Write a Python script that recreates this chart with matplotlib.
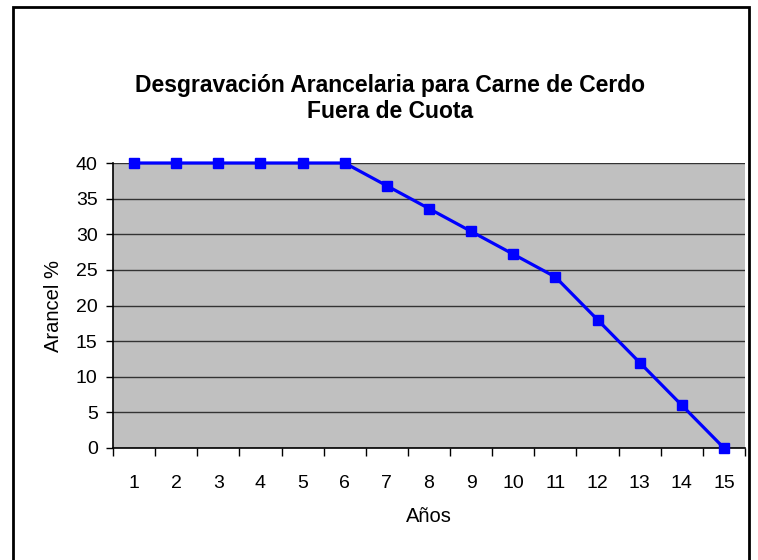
import matplotlib
matplotlib.use("Agg")
import matplotlib.pyplot as plt
from matplotlib.patches import Rectangle

years = [str(i) for i in range(1, 16)]
arancel = [40, 40, 40, 40, 40, 40, 36.8, 33.6, 30.4, 27.2, 24, 18, 12, 6, 0]
y_ticks = [0, 5, 10, 15, 20, 25, 30, 35, 40]

plt.rcParams['font.family'] = ['Liberation Sans', 'DejaVu Sans']

W, H = 758, 560
fig = plt.figure(figsize=(W / 100, H / 100), dpi=100)
fig.patch.set_facecolor('white')

# figure border (chart area)
fig.patches.append(Rectangle((13 / W, -0.05), (749 - 13) / W, 1 - 7 / H + 0.05,
                             transform=fig.transFigure, fill=False,
                             edgecolor='black', linewidth=2))

left, right, top, bottom = 113, 745, 163, 448
ax = fig.add_axes([left / W, 1 - bottom / H, (right - left) / W, (bottom - top) / H])
ax.set_facecolor('#C0C0C0')

x = list(range(len(years)))
ax.plot(x, arancel, color='#0000FF', linewidth=2.3, marker='s', markersize=7.5,
        markerfacecolor='#0000FF', markeredgecolor='#0000FF', zorder=3, clip_on=False)

ax.set_xlim(-0.5, len(years) - 0.5)
ax.set_ylim(0, 40)
ax.set_yticks(y_ticks)
ax.set_yticklabels([str(v) for v in y_ticks], fontsize=14)
ax.set_xticks(x)
ax.set_xticklabels(years, fontsize=14)
ax.tick_params(axis='x', which='major', length=0, pad=19.5)
ax.set_xticks([i - 0.5 for i in range(len(years) + 1)], minor=True)
ax.tick_params(axis='x', which='minor', length=6, width=1, color='black', direction='out')
ax.tick_params(axis='y', length=5, width=1, direction='out', pad=6)

ax.yaxis.grid(True, color='#333333', linewidth=1)
ax.set_axisbelow(True)
for s in ['top', 'right']:
    ax.spines[s].set_visible(False)
ax.spines['left'].set_linewidth(1.2)
ax.spines['bottom'].set_linewidth(1.2)

ax.set_ylabel('Arancel %', fontsize=14.5, labelpad=9)
ax.set_xlabel('Años', fontsize=14.5, labelpad=11)

fig.text(390 / W, 1 - 98.5 / H, 'Desgravación Arancelaria para Carne de Cerdo\nFuera de Cuota',
         ha='center', va='center', fontsize=16.5, fontweight='bold', linespacing=1.2)

fig.savefig('out.png', dpi=100, facecolor='white')
